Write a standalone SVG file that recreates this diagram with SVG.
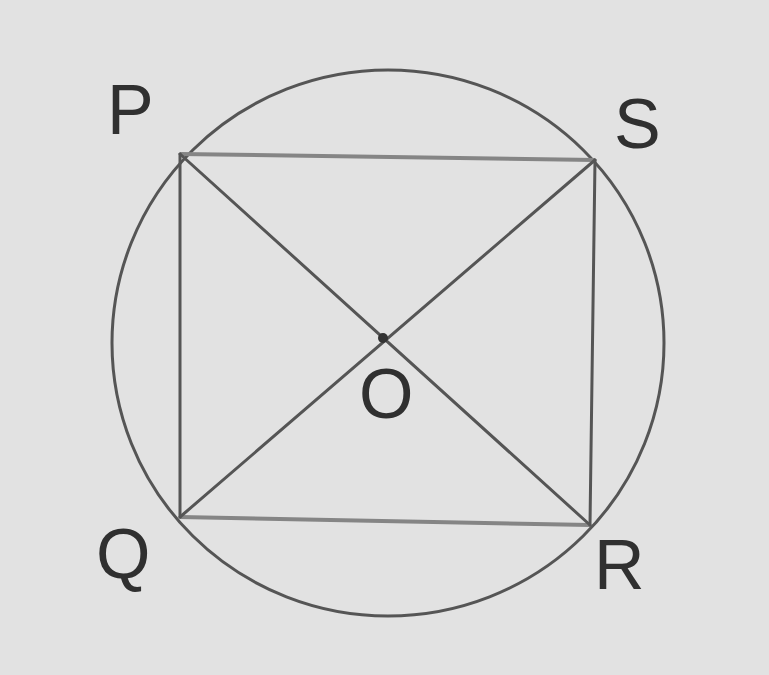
<svg xmlns="http://www.w3.org/2000/svg" width="769" height="675" viewBox="0 0 769 675">
<style>
.ln{stroke:#555;stroke-width:3;fill:none;stroke-linecap:round}
.hz{stroke:#858585;stroke-width:4;fill:none}
.lb{font-family:"Liberation Sans",Arial,sans-serif;font-size:70px;fill:#303030}
</style>
<rect x="0" y="0" width="769" height="675" fill="#e2e2e2"/>
<g id="circle"><ellipse cx="388" cy="343" rx="276" ry="273" class="ln"/></g>
<g id="connectors">
<line x1="180" y1="154" x2="595" y2="160" class="hz"/>
<line x1="180" y1="517" x2="590" y2="525" class="hz"/>
<line x1="180" y1="154" x2="180" y2="517" class="ln"/>
<line x1="595" y1="160" x2="590" y2="525" class="ln"/>
<line x1="180" y1="154" x2="590" y2="525" class="ln"/>
<line x1="595" y1="160" x2="180" y2="517" class="ln"/>
</g>
<g id="O"><circle cx="383" cy="338" r="5" fill="#333"/><text x="359" y="418" class="lb">O</text></g>
<g id="P"><text x="107" y="134" class="lb">P</text></g>
<g id="S"><text x="614" y="148" class="lb">S</text></g>
<g id="Q"><text x="96" y="578" class="lb">Q</text></g>
<g id="R"><text x="594" y="589" class="lb">R</text></g>
</svg>
